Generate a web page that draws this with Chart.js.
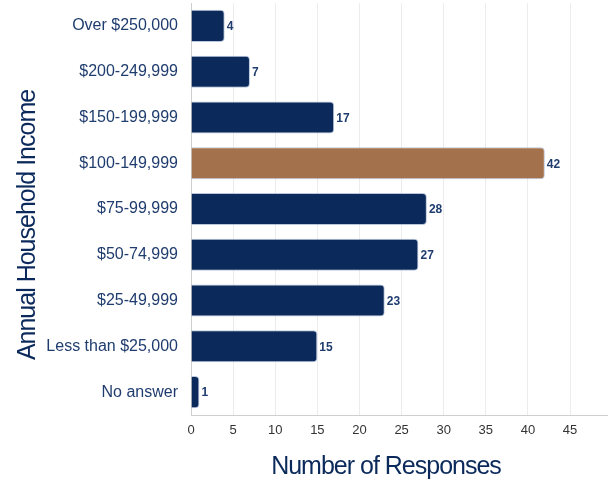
<!DOCTYPE html>
<html>
<head>
<meta charset="utf-8">
<script src="https://cdn.jsdelivr.net/npm/chart.js@4.4.1/dist/chart.umd.min.js"></script>
<style>
  html, body { margin: 0; padding: 0; background: #fff; }
  #wrap { width: 608px; height: 481px; }
</style>
</head>
<body>
<div id="wrap"><canvas id="c"></canvas></div>
<script>
var categories = ['Over $250,000', '$200-249,999', '$150-199,999', '$100-149,999', '$75-99,999', '$50-74,999', '$25-49,999', 'Less than $25,000', 'No answer'];
var responses = [4, 7, 17, 42, 28, 27, 23, 15, 1];
var xTicks = [0, 5, 10, 15, 20, 25, 30, 35, 40, 45];
var xTitle = 'Number of Responses';
var yTitle = 'Annual Household Income';

var navy = '#0b2a5b';
var brown = '#a3714b';
var barColors = responses.map(function (v) { return v === 42 ? brown : navy; });
var sans = 'Arial, "Liberation Sans", sans-serif';

// value at the end of each bar, plus the two axis titles (drawn with tight tracking)
var labelsPlugin = {
  id: 'labelsPlugin',
  afterDatasetsDraw: function (chart) {
    var ctx = chart.ctx;
    var meta = chart.getDatasetMeta(0);
    ctx.save();
    ctx.font = 'bold 12px ' + sans;
    ctx.fillStyle = '#1f3c6e';
    ctx.textBaseline = 'middle';
    meta.data.forEach(function (bar, i) {
      ctx.fillText(responses[i], bar.x + 2, bar.y + 1);
    });
    ctx.restore();
  },
  afterDraw: function (chart) {
    var ctx = chart.ctx;
    ctx.save();
    ctx.font = '25px ' + sans;
    ctx.letterSpacing = '-1px';
    ctx.fillStyle = navy;
    ctx.textAlign = 'center';
    ctx.textBaseline = 'alphabetic';
    ctx.fillText(xTitle, 386, 474);
    ctx.translate(35, 225);
    ctx.rotate(-Math.PI / 2);
    ctx.fillText(yTitle, 0, 0);
    ctx.restore();
  }
};

new Chart(document.getElementById('c'), {
  type: 'bar',
  data: {
    labels: categories,
    datasets: [{
      data: responses,
      backgroundColor: barColors,
      borderColor: 'rgba(140,160,200,0.6)',
      borderWidth: 1,
      borderSkipped: 'left',
      borderRadius: { topRight: 4, bottomRight: 4 },
      barPercentage: 0.7,
      categoryPercentage: 1
    }]
  },
  options: {
    indexAxis: 'y',
    responsive: true,
    maintainAspectRatio: false,
    animation: false,
    layout: { padding: { top: 3, right: 0, left: 0, bottom: 0 } },
    plugins: { legend: { display: false }, tooltip: { enabled: false } },
    scales: {
      x: {
        min: 0, max: 49.5,
        afterBuildTicks: function (axis) { axis.ticks = xTicks.map(function (v) { return { value: v }; }); },
        afterFit: function (axis) { axis.height = 66; axis.paddingLeft = 0; axis.paddingRight = 0; },
        grid: { color: '#ececec', drawTicks: false },
        border: { color: '#cfcfcf' },
        ticks: { color: '#333', font: { size: 13, family: sans }, padding: 8 }
      },
      y: {
        afterFit: function (axis) { axis.width = 191; axis.paddingTop = 0; axis.paddingBottom = 0; },
        grid: { display: false, drawTicks: false },
        border: { color: '#cfcfcf' },
        ticks: { color: '#1f3c6e', font: { size: 16, family: sans }, padding: 13 }
      }
    }
  },
  plugins: [labelsPlugin]
});
</script>
</body>
</html>
